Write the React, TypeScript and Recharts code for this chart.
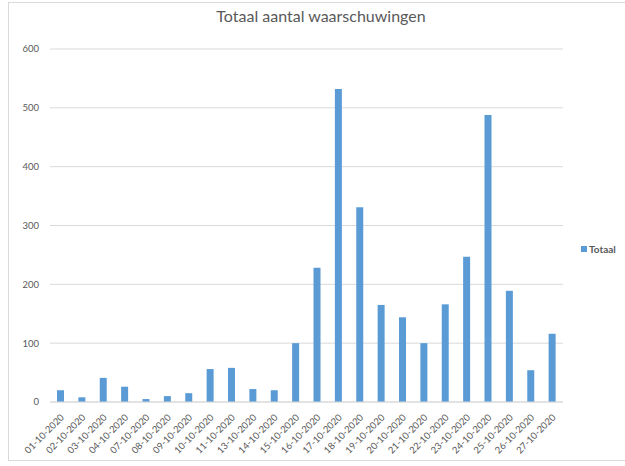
import { Bar, BarChart, CartesianGrid, XAxis, YAxis } from 'recharts';

const dates = [
  '01-10-2020', '02-10-2020', '03-10-2020', '04-10-2020', '07-10-2020', '08-10-2020',
  '09-10-2020', '10-10-2020', '11-10-2020', '13-10-2020', '14-10-2020', '15-10-2020',
  '16-10-2020', '17-10-2020', '18-10-2020', '19-10-2020', '20-10-2020', '21-10-2020',
  '22-10-2020', '23-10-2020', '24-10-2020', '25-10-2020', '26-10-2020', '27-10-2020',
];
const totaal = [20, 8, 41, 26, 5, 10, 15, 56, 58, 22, 20, 100, 228, 532, 331, 165, 144, 100, 166, 247, 488, 189, 54, 116];
const yTicks = [0, 100, 200, 300, 400, 500, 600];

const data = dates.map((d, i) => ({ date: d, Totaal: totaal[i] }));

const FONT = 'Lato, "Open Sans", sans-serif';
const INK = '#595959';
const BLUE = '#5B9BD5';

function DateTick(props: any) {
  const { x, y, payload } = props;
  return (
    <text
      x={x + 4}
      y={y + 8}
      textAnchor="end"
      fontSize={9.5}
      fill={INK}
      fontFamily={FONT}
      transform={`rotate(-45, ${x + 4}, ${y + 8})`}
    >
      {payload.value}
    </text>
  );
}

export default function App() {
  return (
    <div style={{ position: 'absolute', left: 0, top: 0, width: 625, height: 466, background: '#fff' }}>
      <div
        style={{
          position: 'absolute',
          left: 8,
          top: 2,
          width: 625,
          height: 459,
          border: '1px solid #d9d9d9',
          boxSizing: 'border-box',
        }}
      />
      <div
        style={{
          position: 'absolute',
          left: 0,
          top: 6,
          width: 642,
          textAlign: 'center',
          fontFamily: FONT,
          fontSize: 16,
          color: INK,
        }}
      >
        Totaal aantal waarschuwingen
      </div>
      {/* legend drawn outside the chart so it does not shrink the plot */}
      <div
        style={{
          position: 'absolute',
          left: 581,
          top: 243,
          display: 'flex',
          alignItems: 'center',
          fontFamily: FONT,
          fontSize: 10,
          color: INK,
          fontWeight: 700,
        }}
      >
        <span style={{ width: 6, height: 6, background: BLUE, display: 'inline-block', marginRight: 2 }} />
        Totaal
      </div>
      <div style={{ position: 'absolute', left: 0, top: 0 }}>
        <BarChart
          width={625}
          height={466}
          data={data}
          margin={{ top: 49, right: 62, bottom: 6, left: 0 }}
          barSize={7}
        >
          <CartesianGrid vertical={false} stroke="#d9d9d9" />
          <XAxis
            dataKey="date"
            interval={0}
            height={58}
            tickLine={false}
            axisLine={{ stroke: '#d9d9d9' }}
            tick={<DateTick />}
          />
          <YAxis
            width={50}
            domain={[0, 600]}
            ticks={yTicks}
            tickLine={false}
            axisLine={false}
            tickMargin={5}
            tick={{ fontSize: 9.5, fill: INK, fontFamily: FONT }}
          />
          <Bar dataKey="Totaal" fill={BLUE} isAnimationActive={false} />
        </BarChart>
      </div>
    </div>
  );
}
